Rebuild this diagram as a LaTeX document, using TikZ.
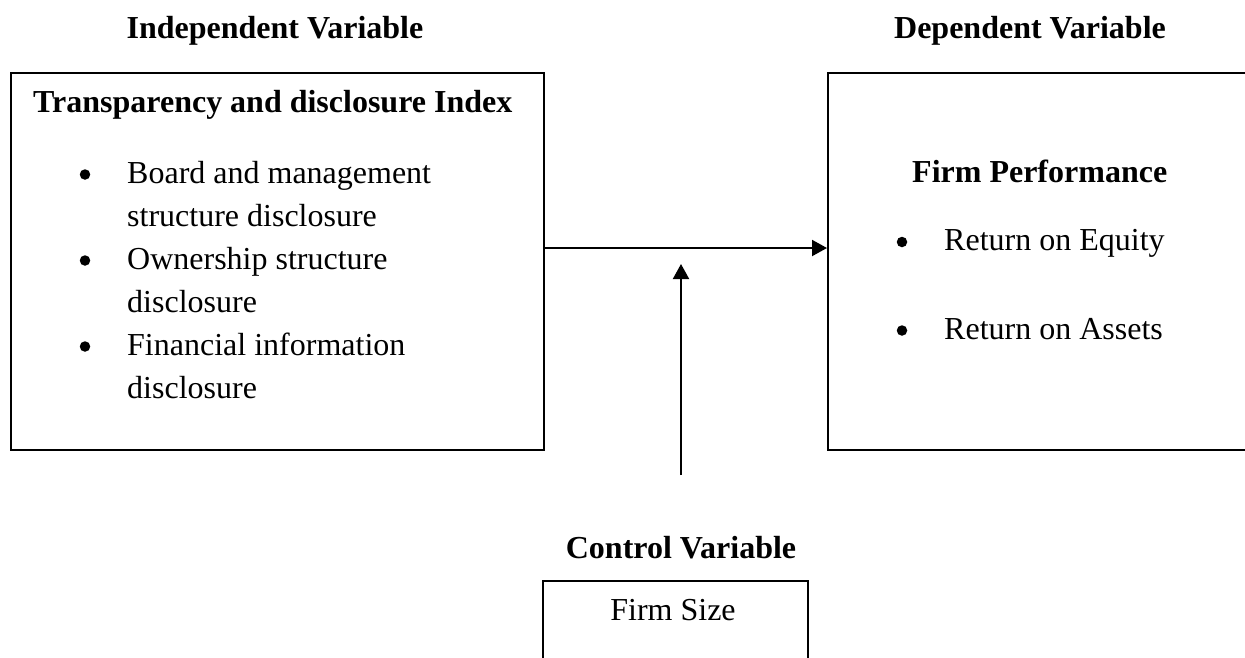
\documentclass[tikz,border=0pt]{standalone}
\usepackage{fontspec}
\setmainfont{Liberation Serif}
\usetikzlibrary{arrows.meta}
\tikzset{
  px/.style={x=1pt,y=-1pt},
  box/.style={draw=black,line width=2pt,rectangle,inner sep=0pt,anchor=north west},
  body/.style={inner sep=0pt,font=\fontsize{32}{37.5}\selectfont},
  head/.style={inner sep=0pt,font=\fontsize{32}{37.5}\selectfont\bfseries},
  dot/.style={circle,fill=black,inner sep=0pt,minimum size=10.5pt},
  conn/.style={line width=2pt,-{Triangle[length=15pt,width=16pt]}},
}
\begin{document}
\begin{tikzpicture}[px]
\clip (0,0) rectangle (1245,657);
\fill[white] (0,0) rectangle (1245,657);
% headings
\node[head,anchor=base] (indep) at (275,38) {Independent Variable};
\node[head,anchor=base] (dep) at (1030,38) {Dependent Variable};
% left box
\node[box,minimum width=533pt,minimum height=377pt] (tdi) at (10,72) {};
\node[head,anchor=base west] (tdititle) at (33,112) {Transparency and disclosure Index};
\node[dot] (b1) at (85,174.5) {};
\node[body,anchor=base west] (l1) at (127,183) {Board and management};
\node[body,anchor=base west] (l2) at (127,226) {structure disclosure};
\node[dot] (b2) at (85,260.5) {};
\node[body,anchor=base west] (l3) at (127,269) {Ownership structure};
\node[body,anchor=base west] (l4) at (127,312) {disclosure};
\node[dot] (b3) at (85,346.5) {};
\node[body,anchor=base west] (l5) at (127,355) {Financial information};
\node[body,anchor=base west] (l6) at (127,398) {disclosure};
% right box
\node[box,minimum width=500pt,minimum height=377pt] (fp) at (827,72) {};
\node[head,anchor=base west] (fptitle) at (912,182) {Firm Performance};
\node[dot] (rb1) at (902,242) {};
\node[body,anchor=base west] (r1) at (944,250) {Return on Equity};
\node[dot] (rb2) at (902,330.5) {};
\node[body,anchor=base west] (r2) at (944,339) {Return on Assets};
% control
\node[head,anchor=base] (ctrl) at (681,558) {Control Variable};
\node[box,minimum width=265pt,minimum height=120pt] (fs) at (542,580) {};
\node[body,anchor=base] (fstext) at (673,620) {Firm Size};
% connectors
\coordinate (mid) at (681,248);
\coordinate (vtop) at (681,264);
\coordinate (vbot) at (681,475);
\draw[conn] (tdi.east |- mid) -- (fp.west |- mid);
\draw[conn] (vbot) -- (vtop);
\end{tikzpicture}
\end{document}
